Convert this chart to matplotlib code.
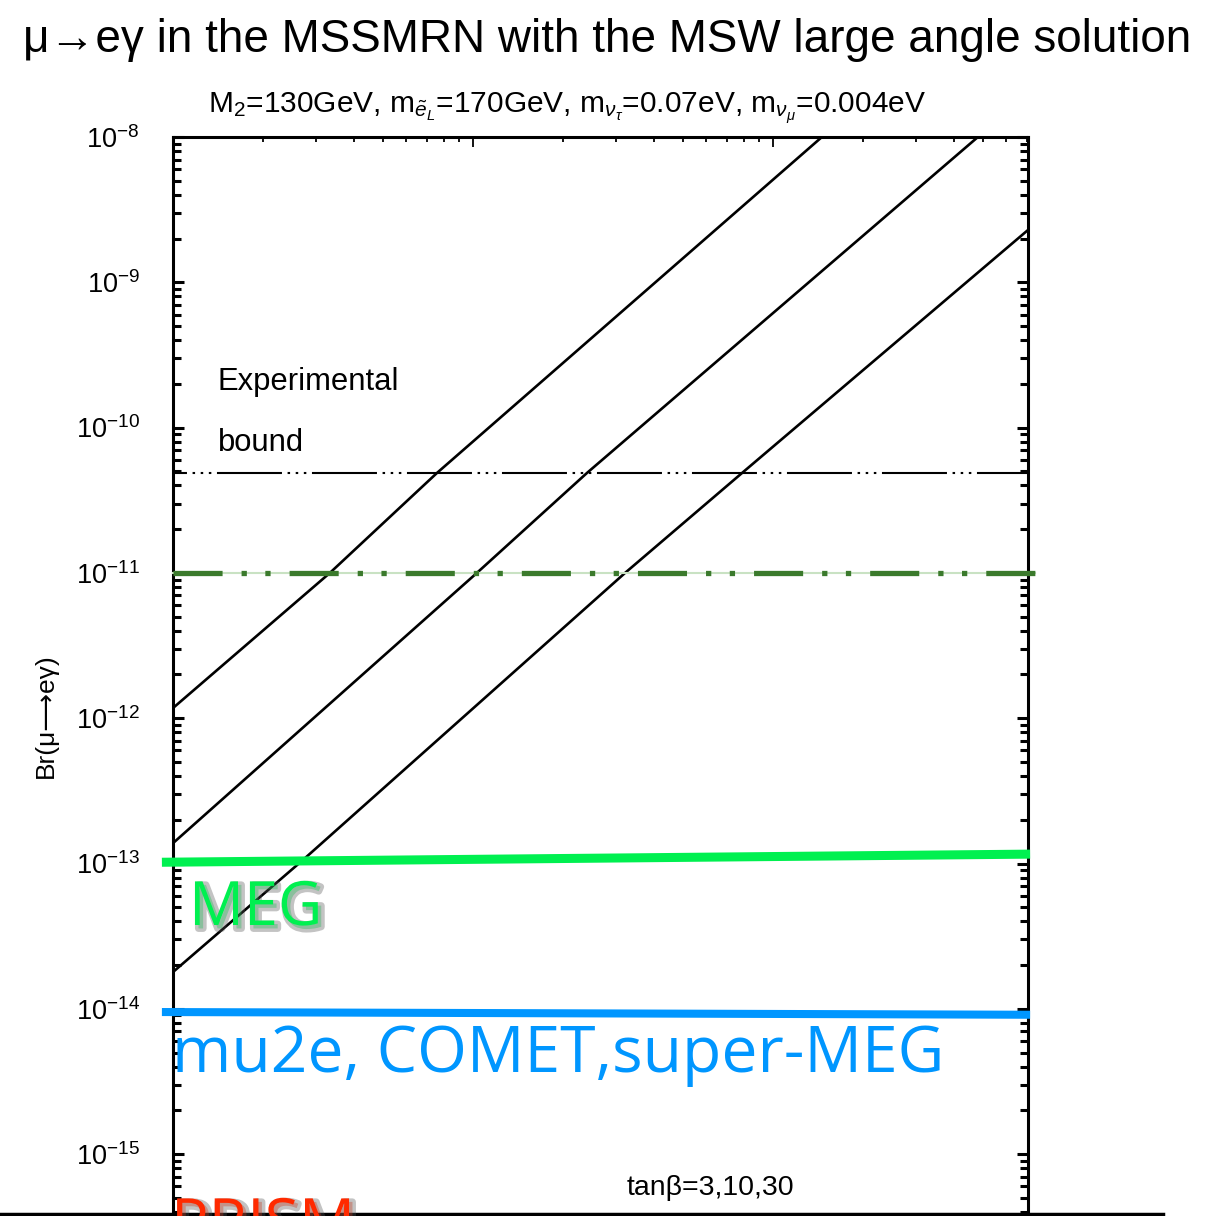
import matplotlib
matplotlib.use("Agg")
import matplotlib.pyplot as plt
import matplotlib.patheffects as pe
from matplotlib.lines import Line2D
from matplotlib.ticker import LogLocator, NullFormatter

# ---- values ----
x_range = (1e12, 10 ** 14.85)
y_range = (1e-16, 1e-8)

# Br(mu -> e gamma) for tan(beta) = 30, 10, 3
mr_tb30 = [1e12, 10 ** 12.523, 10 ** 12.88, 10 ** 14.163]
br_tb30 = [10 ** -11.93, 1e-11, 10 ** -10.312, 1e-8]
mr_tb10 = [1e12, 10 ** 13.013, 10 ** 13.38, 10 ** 14.683]
br_tb10 = [10 ** -12.86, 1e-11, 10 ** -10.312, 1e-8]
mr_tb3 = [1e12, 10 ** 12.433, 10 ** 13.507, 10 ** 13.897, 10 ** 14.85]
br_tb3 = [10 ** -13.747, 10 ** -12.976, 1e-11, 10 ** -10.312, 10 ** -8.64]

exp_bound = 4.9e-11
meg_2009 = 1e-11
ends_x = [10 ** 11.963, 10 ** 14.857]
meg_goal = [1.02e-13, 1.16e-13]
mu2e_goal = [9.5e-15, 9.1e-15]

y_decades = list(range(-16, -7))
x_decades = [12, 13, 14]

# ---- figure ----
W, H = 1217, 1216
sans = ['Liberation Sans', 'DejaVu Sans']
plt.rcParams['font.family'] = sans
plt.rcParams['mathtext.fontset'] = 'custom'
plt.rcParams['mathtext.rm'] = 'Liberation Sans'
plt.rcParams['mathtext.it'] = 'Liberation Sans:italic'
plt.rcParams['mathtext.sf'] = 'Liberation Sans'

fig = plt.figure(figsize=(W / 100, H / 100), dpi=100)


def fx(px):
    return px / W


def fy(py):
    return 1 - py / H


# axes: left 173px, right 1028px, top 137px, one decade = 145.3px
top_px = 137
bot_px = top_px + 8 * 145.3
ax = fig.add_axes([fx(173), fy(bot_px), fx(1028) - fx(173), fy(top_px) - fy(bot_px)])
ax.set_xscale('log')
ax.set_yscale('log')
ax.set_xlim(*x_range)
ax.set_ylim(*y_range)

for s in ax.spines.values():
    s.set_linewidth(2.2)

ax.set_yticks([10.0 ** e for e in y_decades])
ax.set_yticklabels([r'$10^{%d}$' % e for e in y_decades], fontsize=19.5)
ax.yaxis.set_minor_locator(LogLocator(base=10, subs=range(2, 10), numticks=50))
ax.yaxis.set_minor_formatter(NullFormatter())
ax.set_xticks([10.0 ** e for e in x_decades])
ax.set_xticklabels([])
ax.xaxis.set_minor_locator(LogLocator(base=10, subs=range(2, 10), numticks=50))
ax.xaxis.set_minor_formatter(NullFormatter())
ax.tick_params(axis='y', which='both', direction='in', left=True, right=True,
               width=2.2, pad=24)
ax.tick_params(axis='y', which='major', length=8)
ax.tick_params(axis='y', which='minor', length=5.5)
ax.tick_params(axis='x', which='both', direction='in', top=True, bottom=True,
               width=1.3)
ax.tick_params(axis='x', which='major', length=7)
ax.tick_params(axis='x', which='minor', length=3.6)

# model curves
for xs, ys in [(mr_tb30, br_tb30), (mr_tb10, br_tb10), (mr_tb3, br_tb3)]:
    ax.plot(xs, ys, color='black', lw=1.9)

# experimental bound
ax.axhline(exp_bound, color='black', lw=1.5,
           linestyle=(24.5, (31.2, 2.7, 1.2, 2.7, 1.2, 2.7, 1.2, 2.7)))

# MEG 2009 bound (dash-dot-dot)
ax.plot([x_range[0], 10 ** 14.873], [meg_2009, meg_2009], color='#c9e2c3',
        lw=1.5, clip_on=False, zorder=3)
ax.plot([x_range[0], 10 ** 14.873], [meg_2009, meg_2009], color='#3b7a2c',
        lw=3.8, clip_on=False, zorder=4,
        linestyle=(0, (9.3, 3.6, 1.0, 3.5, 1.0, 3.6)), dash_capstyle='butt')

# sensitivity goals
ax.plot(ends_x, meg_goal, color='#00f050', lw=6.5, clip_on=False,
        solid_capstyle='butt', zorder=5)
ax.plot(ends_x, mu2e_goal, color='#0096ff', lw=5.8, clip_on=False,
        solid_capstyle='butt', zorder=5)

big = ['Open Sans', 'DejaVu Sans']
shadow = [pe.Stroke(offset=(2.5, -2.5), linewidth=5, foreground='#555555', alpha=0.35),
          pe.Normal()]
fig.text(fx(189), fy(925), 'MEG', color='#00f050', fontsize=44,
         family=big, va='baseline', path_effects=shadow)
fig.text(fx(172), fy(1072), 'mu2e, COMET,super-MEG', color='#0096ff', fontsize=46.2,
         family=big, va='baseline')
fig.text(fx(171), fy(1243), 'PRISM', color='#ff2a00', fontsize=45,
         family=big, va='baseline', path_effects=shadow)

# annotations inside the plot
fig.text(fx(218), fy(390), 'Experimental', fontsize=22.3, va='baseline')
fig.text(fx(218), fy(451), 'bound', fontsize=22.3, va='baseline')
fig.text(fx(710), fy(1188), 'tanβ=3,10,30', fontsize=20.5, ha='center', va='center')

# titles and axis label
fig.text(fx(607), fy(52), 'μ→eγ in the MSSMRN with the MSW large angle solution',
         fontsize=33, ha='center', va='baseline')
fig.text(fx(567), fy(113),
         r'M$_2$=130GeV, m$_{\tilde{e}_L}$=170GeV, m$_{\nu_\tau}$=0.07eV, m$_{\nu_\mu}$=0.004eV',
         fontsize=21.5, ha='center', va='baseline')
fig.text(fx(46), fy(716), 'Br(μ⟶eγ)', fontsize=19, rotation=90, ha='center', va='center')

# slide frame edge at the bottom
fig.add_artist(Line2D([0, fx(1163)], [fy(1214), fy(1214)], color='black', lw=2.5))

fig.savefig('out.png', dpi=100)
